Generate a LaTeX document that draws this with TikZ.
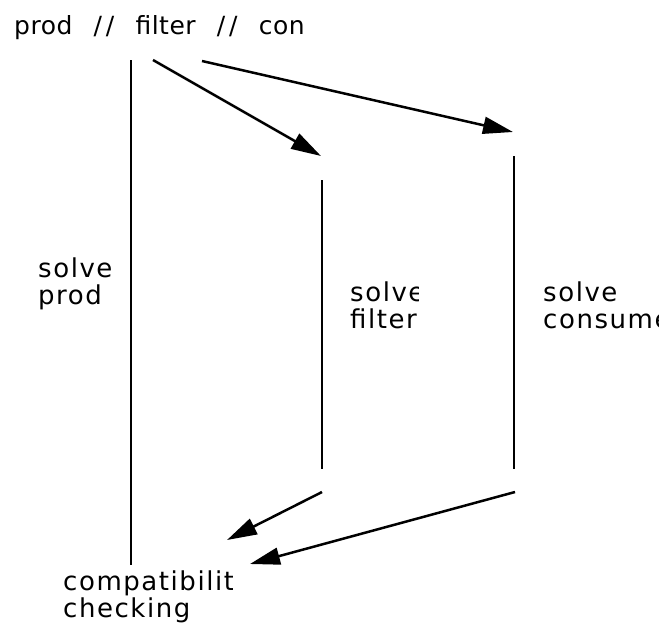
\documentclass[tikz,border=0pt]{standalone}
\usepackage{fontspec}
\setmainfont{DejaVu Sans}[LetterSpace=6]
\newfontfamily\topfont{DejaVu Sans}[LetterSpace=2,WordSpace={2.5}]
\usetikzlibrary{arrows.meta}
\tikzset{
  ln/.style={line width=2.5pt},
  arr/.style={line width=2.5pt,-{Triangle[length=30pt,width=17pt]}},
  lbl/.style={anchor=base west,inner sep=0pt,font=\fontsize{26}{28}\selectfont},
  toplbl/.style={anchor=base west,inner sep=0pt,font=\fontsize{25}{28}\topfont}
}
\begin{document}
\begin{tikzpicture}[x=1pt,y=-1pt]
\useasboundingbox (0,0) rectangle (659,625);
% coordinates
\coordinate (lt) at (131,60);
\coordinate (lb) at (131,565);
\coordinate (a1s) at (153,60);
\coordinate (a1e) at (321,156);
\coordinate (a2s) at (202,61);
\coordinate (a2e) at (513,132);
\coordinate (mt) at (322,180);
\coordinate (mb) at (322,469);
\coordinate (rt) at (514,156);
\coordinate (rb) at (514,469);
\coordinate (a3s) at (322,492);
\coordinate (a3e) at (227,540);
\coordinate (a4s) at (515,492);
\coordinate (a4e) at (250,564);
\draw[ln] (lt) -- (lb);
\draw[ln] (mt) -- (mb);
\draw[ln] (rt) -- (rb);
\draw[arr] (a1s) -- (a1e);
\draw[arr] (a2s) -- (a2e);
\draw[arr] (a3s) -- (a3e);
\draw[arr] (a4s) -- (a4e);
% labels
\begin{scope}
\clip (0,0) rectangle (316,60);
\node[toplbl] (top) at (14,34) {prod /\kern4pt/ filter /\kern4pt/ con};
\end{scope}
\node[lbl] (sp1) at (38,277) {solve};
\node[lbl] (sp2) at (38,304) {prod};
\begin{scope}
\clip (340,250) rectangle (418,340);
\node[lbl] (sf1) at (350,301) {solve};
\node[lbl] (sf2) at (350,328) {filter};
\end{scope}
\node[lbl] (sc1) at (543,301) {solve};
\node[lbl] (sc2) at (543,328) {consumer};
\begin{scope}
\clip (50,560) rectangle (232,596);
\node[lbl] (cc1) at (63,590) {compatibility};
\end{scope}
\node[lbl] (cc2) at (63,617) {checking};
\end{tikzpicture}
\end{document}
